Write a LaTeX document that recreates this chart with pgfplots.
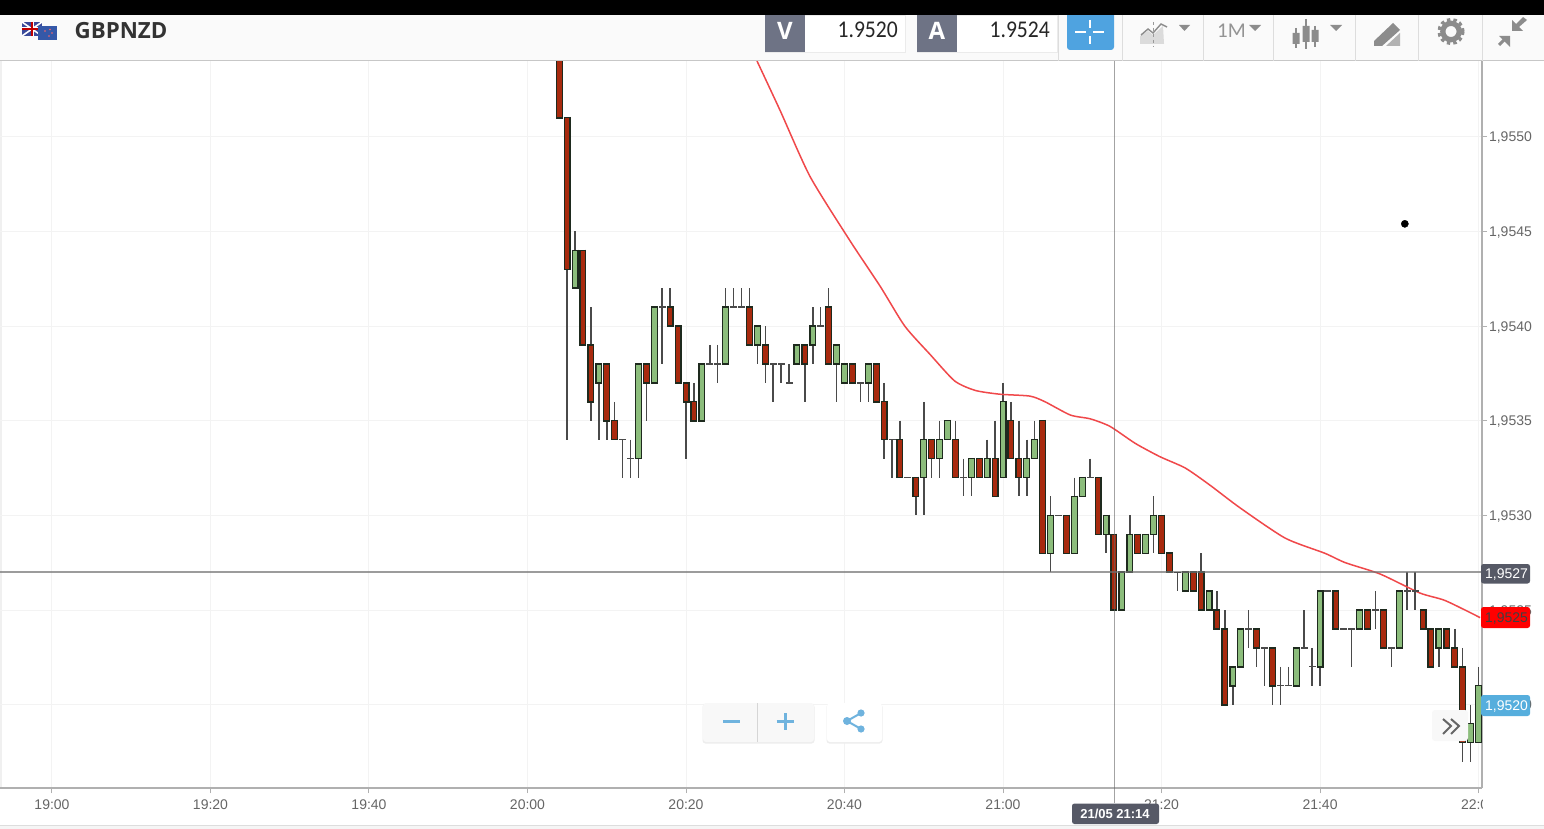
\documentclass[border=0pt]{standalone}
\usepackage{pgfplots}
\usepackage{pgfplotstable}
\usepackage{fontspec}
\pgfplotsset{compat=1.18}
\setmainfont{Liberation Sans}
\newfontfamily\titlefont{Open Sans}
\newfontfamily\valfont{Carlito}
\definecolor{cGreen}{HTML}{8CBD7C}
\definecolor{cRed}{HTML}{A82A0E}
\definecolor{cEdge}{HTML}{1E2A1E}
\definecolor{cWick}{HTML}{4A4A4A}
\definecolor{cGrid}{HTML}{F3F3F3}
\definecolor{cAxis}{HTML}{B0B0B0}
\definecolor{cTick}{HTML}{666666}
\definecolor{cMA}{HTML}{F0484A}
\definecolor{cSlate}{HTML}{6E7385}
\definecolor{cDark}{HTML}{565966}
\definecolor{cBlue}{HTML}{4FA3E0}
\definecolor{cIcon}{HTML}{8C8C8C}
\definecolor{cIconB}{HTML}{6FB3DE}
\definecolor{cHead}{HTML}{FAFAFA}
\definecolor{cLine}{HTML}{DDDDDD}
\definecolor{cBtn}{HTML}{F8F8F8}
\definecolor{cTagB}{HTML}{56AEDD}
\definecolor{cUK}{HTML}{3A4A9A}
\definecolor{cNZ}{HTML}{3558A8}
\newcommand{\fs}[1]{\fontsize{#1}{#1}\selectfont}

% m = minutes after 19:00; top, bot = body; high, low = wick
\pgfplotstableread{
m top bot high low
66 1.9544 1.9542 1.9545 1.9542
69 1.9538 1.9537 1.9538 1.9534
74 1.9538 1.9533 1.9538 1.9532
76 1.9541 1.9537 1.9541 1.9537
82 1.9538 1.9535 1.9538 1.9535
85 1.9541 1.9538 1.9542 1.9538
89 1.9540 1.9539 1.9540 1.9538
94 1.9539 1.9538 1.9539 1.9538
96 1.9540 1.9539 1.9541 1.9538
99 1.9539 1.9538 1.9539 1.9536
100 1.9538 1.9537 1.9538 1.9537
103 1.9538 1.9537 1.9538 1.9536
110 1.9534 1.9532 1.9536 1.9530
112 1.9534 1.9533 1.9535 1.9532
113 1.9535 1.9534 1.9535 1.9534
116 1.9533 1.9532 1.9533 1.9531
118 1.9533 1.9532 1.9534 1.9532
120 1.9536 1.9532 1.9537 1.9532
123 1.9533 1.9532 1.9534 1.9531
124 1.9534 1.9533 1.9535 1.9533
126 1.9530 1.9528 1.9531 1.9527
129 1.9531 1.9528 1.9532 1.9528
130 1.9532 1.9531 1.9532 1.9531
133 1.9530 1.9529 1.9530 1.9528
135 1.9527 1.9525 1.9527 1.9525
136 1.9529 1.9527 1.9530 1.9527
138 1.9529 1.9528 1.9529 1.9528
139 1.9530 1.9529 1.9531 1.9528
143 1.9527 1.9526 1.9527 1.9526
146 1.9526 1.9525 1.9526 1.9525
149 1.9522 1.9521 1.9522 1.9520
150 1.9524 1.9522 1.9524 1.9522
157 1.9523 1.9521 1.9523 1.9521
160 1.9526 1.9522 1.9526 1.9521
165 1.9525 1.9524 1.9525 1.9524
170 1.9526 1.9523 1.9526 1.9523
175 1.9524 1.9523 1.9524 1.9522
179 1.9519 1.9518 1.9520 1.9517
180 1.9521 1.9518 1.9522 1.9518
}\greentbl
\pgfplotstableread{
m top bot high low
64 1.9565 1.9551 1.9565 1.9551
65 1.9551 1.9543 1.9551 1.9534
67 1.9544 1.9539 1.9544 1.9539
68 1.9539 1.9536 1.9541 1.9535
70 1.9538 1.9535 1.9538 1.9534
71 1.9535 1.9534 1.9536 1.9534
75 1.9538 1.9537 1.9538 1.9535
78 1.9541 1.9540 1.9542 1.9540
79 1.9540 1.9537 1.9540 1.9537
80 1.9537 1.9536 1.9537 1.9533
81 1.9536 1.9535 1.9537 1.9535
88 1.9541 1.9539 1.9542 1.9539
90 1.9539 1.9538 1.9540 1.9537
95 1.9539 1.9538 1.9539 1.9536
98 1.9541 1.9538 1.9542 1.9538
101 1.9538 1.9537 1.9538 1.9537
104 1.9538 1.9536 1.9538 1.9536
105 1.9536 1.9534 1.9537 1.9533
107 1.9534 1.9532 1.9535 1.9532
109 1.9532 1.9531 1.9532 1.9530
111 1.9534 1.9533 1.9534 1.9532
114 1.9534 1.9532 1.9535 1.9532
117 1.9533 1.9532 1.9533 1.9532
119 1.9533 1.9531 1.9535 1.9531
121 1.9535 1.9533 1.9536 1.9533
122 1.9533 1.9532 1.9535 1.9531
125 1.9535 1.9528 1.9535 1.9528
128 1.9530 1.9528 1.9530 1.9528
132 1.9532 1.9529 1.9532 1.9529
134 1.9529 1.9525 1.9529 1.9525
137 1.9529 1.9528 1.9529 1.9528
140 1.9530 1.9528 1.9530 1.9528
141 1.9528 1.9527 1.9528 1.9527
144 1.9527 1.9526 1.9527 1.9526
145 1.9527 1.9525 1.9528 1.9525
147 1.9525 1.9524 1.9526 1.9524
148 1.9524 1.9520 1.9525 1.9520
152 1.9524 1.9523 1.9524 1.9522
154 1.9523 1.9521 1.9523 1.9520
162 1.9526 1.9524 1.9526 1.9524
166 1.9525 1.9524 1.9525 1.9524
168 1.9525 1.9523 1.9525 1.9523
173 1.9525 1.9524 1.9525 1.9524
174 1.9524 1.9522 1.9524 1.9522
176 1.9524 1.9523 1.9524 1.9523
177 1.9523 1.9522 1.9524 1.9522
178 1.9522 1.9518 1.9523 1.9517
}\redtbl
\pgfplotstableread{
m price high low
72 1.9534 1.9534 1.9532
73 1.9533 1.9534 1.9532
77 1.9541 1.9542 1.9538
83 1.9538 1.9539 1.9538
84 1.9538 1.9539 1.9537
86 1.9541 1.9542 1.9541
87 1.9541 1.9542 1.9541
91 1.9538 1.9538 1.9536
92 1.9538 1.9538 1.9537
93 1.9537 1.9538 1.9537
97 1.9540 1.9541 1.9540
102 1.9537 1.9537 1.9536
106 1.9534 1.9534 1.9532
108 1.9532 1.9532 1.9532
115 1.9532 1.9533 1.9531
127 1.9530 1.9530 1.9530
131 1.9532 1.9533 1.9532
142 1.9527 1.9527 1.9526
151 1.9524 1.9525 1.9523
153 1.9523 1.9523 1.9521
155 1.9521 1.9522 1.9520
156 1.9521 1.9522 1.9521
158 1.9523 1.9525 1.9523
159 1.9522 1.9523 1.9521
161 1.9526 1.9526 1.9526
163 1.9524 1.9524 1.9524
164 1.9524 1.9524 1.9522
167 1.9525 1.9526 1.9524
169 1.9523 1.9523 1.9522
171 1.9526 1.9527 1.9525
172 1.9526 1.9527 1.9525
}\dojitbl
\pgfplotstableread{
m ma
88.96 1.95540
91.86 1.95514
95.65 1.95479
100.7 1.95445
104.5 1.95421
107.6 1.95400
110.8 1.95385
113.9 1.95371
116.5 1.95366
119.6 1.95364
123.4 1.95363
125.3 1.95360
128.5 1.95353
131.0 1.95351
133.5 1.95347
136.7 1.95338
139.8 1.95331
143.0 1.95325
146.1 1.95316
149.9 1.95304
155.6 1.95288
160.6 1.95280
163.2 1.95275
167.6 1.95269
172.6 1.95259
175.8 1.95255
180.2 1.95246
}\matbl

\pgfplotsset{
  wick/.style={draw=none, mark=none, forget plot,
    error bars/y dir=minus, error bars/y explicit, error bars/error mark=none,
    error bars/error bar style={line width=1.5pt, color=cWick}},
  bodyout/.style={draw=none, mark=none, forget plot,
    error bars/y dir=minus, error bars/y explicit, error bars/error mark=none,
    error bars/error bar style={line width=7pt, color=cEdge, shorten >=-0.8pt, shorten <=-0.8pt}},
  bodyin/.style={draw=none, mark=none, forget plot,
    error bars/y dir=minus, error bars/y explicit, error bars/error mark=none,
    error bars/error bar style={line width=4.6pt, color=#1, shorten >=0.7pt, shorten <=0.7pt}},
}

\begin{document}
\begin{tikzpicture}
\path[use as bounding box] (0pt,0pt) rectangle (1544pt,-829pt);
\fill[white] (0pt,0pt) rectangle (1544pt,-829pt);
\fill[black!6] (0pt,-61pt) rectangle (1.5pt,-788pt);
\begin{axis}[
  at={(0pt,-788pt)}, anchor=south west,
  width=1482pt, height=727pt, scale only axis,
  xmin=-6.56, xmax=180.44,
  ymin=1.95156, ymax=1.95540,
  axis x line*=bottom, axis y line*=right,
  axis line style={-, color=cAxis, line width=1.3pt},
  xtick={0,20,...,180},
  xticklabels={19:00,19:20,19:40,20:00,20:20,20:40,21:00,21:20,21:40,22:00},
  ytick={1.9520,1.9525,1.9530,1.9535,1.9540,1.9545,1.9550},
  scaled y ticks=false,
  /pgf/number format/fixed,
  /pgf/number format/fixed zerofill,
  /pgf/number format/precision=4,
  /pgf/number format/use comma,
  /pgf/number format/assume math mode=true,
  y tick label style={anchor=west, xshift=-1.5pt, yshift=-1pt},
  x tick label style={yshift=-3pt},
  tick label style={font=\fs{14}, text=cTick},
  tick style={color=cAxis, line width=1pt},
  tick align=outside,
  major tick length=5pt,
  grid=major,
  grid style={color=cGrid, line width=1pt},
]
\addplot[wick] table[x=m, y=high, y error minus expr=\thisrow{high}-\thisrow{low}] {\greentbl};
\addplot[wick] table[x=m, y=high, y error minus expr=\thisrow{high}-\thisrow{low}] {\redtbl};
\addplot[wick] table[x=m, y=high, y error minus expr=\thisrow{high}-\thisrow{low}] {\dojitbl};
\addplot[only marks, mark=-, mark size=3.5pt, mark options={color=cWick, line width=1.3pt}, forget plot] table[x=m, y=price] {\dojitbl};
\addplot[bodyout] table[x=m, y=top, y error minus expr=\thisrow{top}-\thisrow{bot}] {\greentbl};
\addplot[bodyout] table[x=m, y=top, y error minus expr=\thisrow{top}-\thisrow{bot}] {\redtbl};
\addplot[bodyin=cGreen] table[x=m, y=top, y error minus expr=\thisrow{top}-\thisrow{bot}] {\greentbl};
\addplot[bodyin=cRed] table[x=m, y=top, y error minus expr=\thisrow{top}-\thisrow{bot}] {\redtbl};
% moving average
\addplot[color=cMA, line width=1.5pt, smooth, tension=0.4, forget plot] table[x=m, y=ma] {\matbl};
% crosshair
\addplot[color=black!55, opacity=0.7, line width=1.5pt, forget plot] coordinates {(-6.56,1.9527) (180.44,1.9527)};
\addplot[color=black!60, opacity=0.6, line width=0.9pt, forget plot] coordinates {(134,1.95156) (134,1.95540)};
% stray dot
\addplot[only marks, mark=*, mark size=3.6pt, mark options={color=black}, forget plot] coordinates {(170.7,1.95454)};
\end{axis}

\begin{scope}[x=1pt, y=-1pt]
% clip of the last tick label
\fill[white] (1482.8,795) rectangle (1500,815);
% crosshair continuation
\draw[black!60, opacity=0.6, line width=0.9pt] (1114,788) -- (1114,803);
% bottom band
\fill[black!4] (0,825) rectangle (1544,829);
\draw[cLine, line width=1pt] (0,825) -- (1544,825);
% header
\fill[cHead] (0,15) rectangle (1544,60.5);
\fill[black] (0,0) rectangle (1544,15);
\draw[black!22, line width=1pt] (0,61) -- (1544,61);
% separators
\foreach \xx in {1058,1122,1203,1273,1355,1418,1482}
  \draw[cLine, line width=0.8pt] (\xx,15) -- (\xx,61);
% flags
\fill[cUK] (22,22) rectangle (42,36);
\draw[white, line width=1.6pt] (22,22) -- (42,36) (22,36) -- (42,22);
\draw[white, line width=3pt] (22,29) -- (42,29) (32,22) -- (32,36);
\draw[red!75!black, line width=1.4pt] (22,29) -- (42,29) (32,22) -- (32,36);
\fill[cNZ] (38,26.5) rectangle (57,40.5);
\fill[red!60!white] (45,31) circle (0.8) (50,29.5) circle (0.8) (52,33) circle (0.8) (49,36) circle (0.8);
\node[anchor=west, inner sep=0pt, text=black!80, font=\titlefont\bfseries\fs{22.3}] at (74.5,30.5) {GBPNZD};
% V / A boxes
\fill[white, draw=black!8, line width=0.6pt] (765,15) rectangle (905,52);
\fill[cSlate] (765,15) -- (805,15) -- (805,52) -- (765,52) -- cycle;
\node[text=white, font=\titlefont\bfseries\fs{24}] at (785,31) {V};
\node[anchor=east, inner sep=0pt, xscale=0.9, text=black!85, font=\valfont\fs{24}] at (898,29.5) {1.9520};
\fill[white, draw=black!8, line width=0.6pt] (917,15) rectangle (1057,52);
\fill[cSlate] (917,15) -- (957,15) -- (957,52) -- (917,52) -- cycle;
\node[text=white, font=\titlefont\bfseries\fs{24}] at (937,31) {A};
\node[anchor=east, inner sep=0pt, xscale=0.9, text=black!85, font=\valfont\fs{24}] at (1050,29.5) {1.9524};
% blue crosshair button
\fill[cBlue, rounded corners=3pt] (1067,10) rectangle (1114,50);
\fill[black] (1060,0) rectangle (1120,15);
\draw[white, line width=1.6pt] (1075,32) -- (1086,32) (1093,32) -- (1104,32) (1090,20) -- (1090,28) (1090,36) -- (1090,44);
% chart-type icon
\fill[black!14] (1140,44) -- (1140,36) -- (1148,31) -- (1153,35) -- (1163,26) -- (1164,44) -- cycle;
\draw[cIcon, line width=1.4pt] (1141,35) -- (1148,29) -- (1153,33) -- (1161,24) -- (1167,27);
\draw[black!40, dashed, line width=0.9pt] (1153,22) -- (1153,47);
\fill[cIcon] (1179,25) -- (1190,25) -- (1184.5,31) -- cycle;
% 1M
\node[anchor=west, inner sep=0pt, text=black!42, font=\valfont\fs{21}] at (1217,31) {1M};
\fill[cIcon] (1249,25) -- (1261,25) -- (1255,31) -- cycle;
% candle icon
\draw[cIcon, line width=1.6pt] (1296,28) -- (1296,48) (1306,19) -- (1306,49) (1315,26) -- (1315,47);
\fill[cIcon] (1292.5,33) rectangle (1299.5,44) (1302.5,26) rectangle (1309.5,42) (1311.5,30) rectangle (1318.5,42);
\fill[cIcon] (1330,25) -- (1342,25) -- (1336,31) -- cycle;
% pencil icon
\fill[cIcon] (1374,41) -- (1393,23) -- (1400,30) -- (1382,46) -- (1374,46) -- cycle;
\fill[black!30] (1386,46) -- (1400,33) -- (1400,46) -- cycle;
% gear
\draw[cIcon, line width=3.6pt, dash pattern=on 3.4pt off 3pt] (1451,31.5) circle (11.8);
\draw[cIcon, line width=5.2pt] (1451,31.5) circle (8.2);
% collapse arrows
\fill[cIcon] (1512,20) -- (1512,31) -- (1523,31) -- (1519,27) -- (1527,20) -- (1523,17) -- (1516,24) -- cycle;
\fill[cIcon] (1510,36) -- (1510,47) -- (1499,36) -- cycle;
\draw[cIcon, line width=3pt] (1504,40) -- (1499,45);
% price tags
\fill[cDark, rounded corners=2.5pt] (1481,564) rectangle (1530,583.5);
\node[text=white, font=\fs{14}] at (1506.5,575) {1,9527};
\fill[red, rounded corners=2.5pt] (1481,607) rectangle (1530,628);
\node[text=black!75, font=\fs{14}] at (1506.5,619) {1,9525};
\fill[cTagB, rounded corners=2.5pt] (1481,695) rectangle (1530,716);
\node[text=white, font=\fs{14}] at (1506.5,706.5) {1,9520};
% date tag
\fill[cDark, rounded corners=2.5pt] (1072,803.5) rectangle (1159,824);
\node[text=white, font=\bfseries\fs{13}] at (1115,814) {21/05 21:14};
% zoom buttons
\fill[black!7, rounded corners=3pt] (702.5,704) rectangle (814.5,743.5);
\fill[cBtn, rounded corners=3pt] (703,703) rectangle (814,742);
\draw[black!16, line width=0.8pt] (757.5,703) -- (757.5,742);
\draw[cIconB, line width=3pt] (723,721.5) -- (740,721.5) (776.5,721.5) -- (793.5,721.5) (785,713) -- (785,730);
\fill[black!7, rounded corners=3pt] (826.5,704) rectangle (882.5,743.5);
\fill[white, rounded corners=3pt] (827,703) rectangle (882,742);
\draw[cIconB, line width=2pt] (861,713) -- (847,721) -- (861,729);
\fill[cIconB] (847,721) circle (4) (861,713) circle (3.6) (861,729) circle (3.6);
% scroll button
\fill[cBtn, rounded corners=3pt] (1432,710) rectangle (1468,741);
\draw[black!60, line width=2pt] (1443,719) -- (1451,726) -- (1443,734) (1451,719) -- (1459,726) -- (1451,734);
\end{scope}
\end{tikzpicture}
\end{document}
